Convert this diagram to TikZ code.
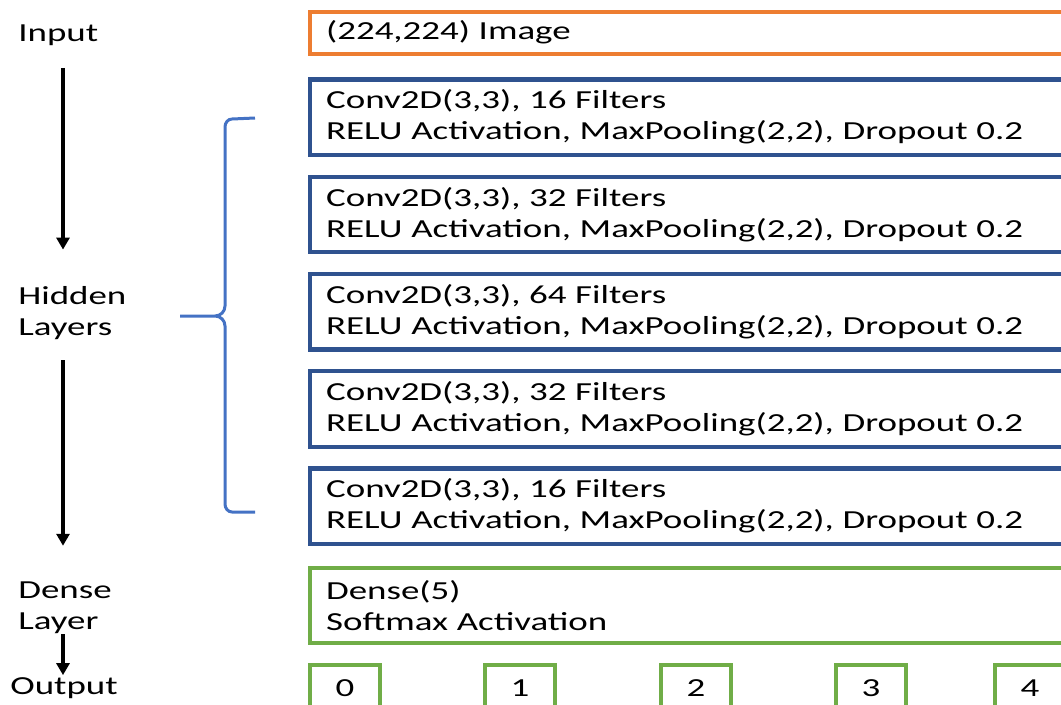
\documentclass[tikz,border=0pt]{standalone}
\usepackage{fontspec}
\setmainfont{Carlito}[FakeStretch=1.42]
\usetikzlibrary{positioning, arrows.meta}
\definecolor{inorange}{RGB}{237,125,49}
\definecolor{convblue}{RGB}{47,82,143}
\definecolor{densegreen}{RGB}{112,173,71}
\definecolor{braceblue}{RGB}{68,114,196}
\tikzset{
  layer/.style={
    draw, line width=0.085cm, anchor=north west, align=left,
    text width=15.34cm, inner xsep=0.33cm, inner ysep=0pt,
    font=\fontsize{14.8}{17.6}\selectfont
  },
  inputbox/.style={layer, draw=inorange, minimum height=0.84cm},
  convbox/.style={layer, draw=convblue, minimum height=1.51cm},
  densebox/.style={layer, draw=densegreen, minimum height=1.51cm},
  classbox/.style={
    draw=densegreen, line width=0.085cm, anchor=north,
    minimum width=1.4cm, minimum height=0.95cm,
    font=\fontsize{14.8}{17.6}\selectfont
  },
  sidelabel/.style={anchor=west, align=left, inner sep=0pt,
    font=\fontsize{14.8}{17.6}\selectfont},
  flow/.style={-{Triangle[width=0.26cm,length=0.24cm]}, line width=0.09cm},
  node distance=0.35cm
}

\begin{document}
\begin{tikzpicture}
  \useasboundingbox (0,0) rectangle (21.22,-14.08);

  % layer boxes
  \node[inputbox] (img) at (6.15,-0.19) {(224,224) Image};
  \node[convbox, below=0.43cm of img] (conv1) {Conv2D(3,3), 16 Filters\\RELU Activation, MaxPooling(2,2), Dropout 0.2};
  \node[convbox, below=of conv1] (conv2) {Conv2D(3,3), 32 Filters\\RELU Activation, MaxPooling(2,2), Dropout 0.2};
  \node[convbox, below=of conv2] (conv3) {Conv2D(3,3), 64 Filters\\RELU Activation, MaxPooling(2,2), Dropout 0.2};
  \node[convbox, below=of conv3] (conv4) {Conv2D(3,3), 32 Filters\\RELU Activation, MaxPooling(2,2), Dropout 0.2};
  \node[convbox, below=of conv4] (conv5) {Conv2D(3,3), 16 Filters\\RELU Activation, MaxPooling(2,2), Dropout 0.2};
  \node[densebox, below=0.39cm of conv5] (dense) {Dense(5)\\Softmax Activation};

  % output classes
  \foreach \i/\x in {0/6.9, 1/10.4, 2/13.92, 3/17.42, 4/20.6}
    \node[classbox] (out\i) at (\x,-13.25) {\i};

  % labels on the left
  \node[sidelabel] (inlbl) at (0.36,-0.7) {Input};
  \node[sidelabel] (hidlbl) at (0.36,-6.27) {Hidden\\Layers};
  \node[sidelabel] (denlbl) at (0.36,-12.16) {Dense\\Layer};
  \node[sidelabel] (outlbl) at (0.2,-13.76) {Output};

  \coordinate (axis) at (1.26,0);
  \draw[flow, shorten <=0.44cm, shorten >=0.74cm] (inlbl.south -| axis) -- (hidlbl.north -| axis);
  \draw[flow, shorten <=0.4cm, shorten >=0.72cm] (hidlbl.south -| axis) -- (denlbl.north -| axis);
  \draw[flow, shorten >=0.04cm] (denlbl.south -| axis) -- (outlbl.north -| axis);

  % brace round the hidden layers
  \draw[braceblue, line width=0.06cm]
    (5.1,-2.36) -- (4.64,-2.38) to[out=180,in=90] (4.5,-2.54) -- (4.5,-6.12)
    to[out=-90,in=0] (4.3,-6.32) -- (3.6,-6.32)
    (4.3,-6.32) to[out=0,in=90] (4.5,-6.52) -- (4.5,-10.08)
    to[out=-90,in=180] (4.64,-10.24) -- (5.1,-10.24);
\end{tikzpicture}
\end{document}
